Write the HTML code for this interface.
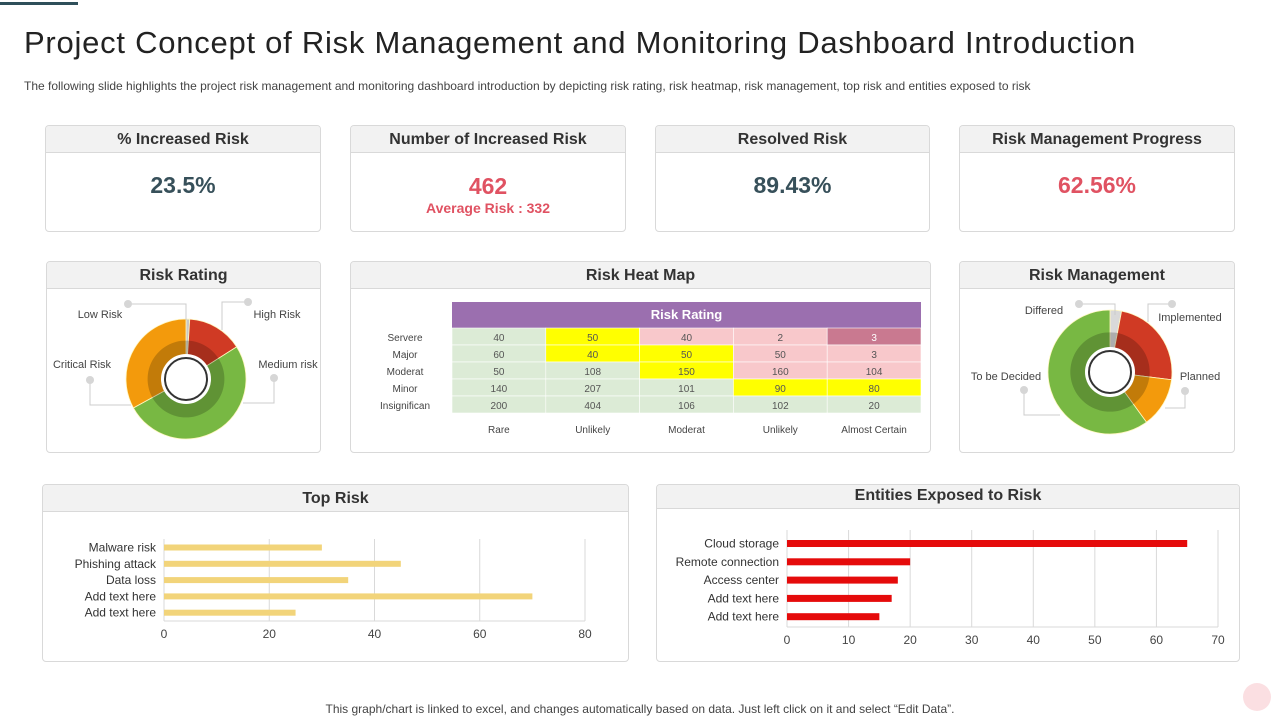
<!DOCTYPE html>
<html><head><meta charset="utf-8">
<style>
*{margin:0;padding:0;box-sizing:border-box}
body{width:1280px;height:720px;background:#fff;position:relative;overflow:hidden;font-family:"Liberation Sans",Arial,sans-serif;color:#333}
.card{position:absolute;border:1px solid #d9d9d9;border-radius:4px;background:#fff;overflow:hidden}
.card .hd{height:27px;background:#f2f2f2;border-bottom:1px solid #d9d9d9;text-align:center;font-weight:bold;font-size:16px;line-height:27px;color:#333}
.big{position:absolute;width:100%;text-align:center;font-weight:bold;font-size:23px}
#title{position:absolute;left:24px;top:25px;font-size:31px;font-weight:300;color:#222;letter-spacing:0.75px;white-space:nowrap}
#sub{position:absolute;left:24px;top:79px;font-size:12px;color:#444;white-space:nowrap}
#foot{position:absolute;left:0;width:1280px;top:702px;text-align:center;font-size:12px;color:#444}
svg#ch{position:absolute;left:0;top:0}
</style></head><body>
<div style="position:absolute;left:0;top:2px;width:78px;height:3px;background:#2f4f5a"></div>
<div id="title">Project Concept of Risk Management and Monitoring Dashboard Introduction</div>
<div id="sub">The following slide highlights the project risk management and monitoring dashboard introduction by depicting risk rating, risk heatmap, risk management, top risk and entities exposed to risk</div>

<div class="card" style="left:45px;top:125px;width:276px;height:107px"><div class="hd">% Increased Risk</div><div class="big" style="top:46px;color:#37505a">23.5%</div></div>
<div class="card" style="left:350px;top:125px;width:276px;height:107px"><div class="hd">Number of Increased Risk</div><div class="big" style="top:47px;color:#e05262">462</div><div class="big" style="top:74px;font-size:14px;color:#e05262">Average Risk : 332</div></div>
<div class="card" style="left:655px;top:125px;width:275px;height:107px"><div class="hd">Resolved Risk</div><div class="big" style="top:46px;color:#37505a">89.43%</div></div>
<div class="card" style="left:959px;top:125px;width:276px;height:107px"><div class="hd">Risk Management Progress</div><div class="big" style="top:46px;color:#e05262">62.56%</div></div>

<div class="card" style="left:46px;top:261px;width:275px;height:192px"><div class="hd">Risk Rating</div></div>
<div class="card" style="left:350px;top:261px;width:581px;height:192px"><div class="hd">Risk Heat Map</div></div>
<div class="card" style="left:959px;top:261px;width:276px;height:192px"><div class="hd">Risk Management</div></div>
<div class="card" style="left:42px;top:484px;width:587px;height:178px"><div class="hd">Top Risk</div></div>
<div class="card" style="left:656px;top:484px;width:584px;height:178px"><div class="hd" style="height:24px;line-height:22px">Entities Exposed to Risk</div></div>

<svg id="ch" width="1280" height="720"></svg>
<div id="foot">This graph/chart is linked to excel,  and changes automatically based on data. Just left click on it and select “Edit Data”.</div>
<div style="position:absolute;left:1243px;top:683px;width:28px;height:28px;border-radius:50%;background:#fbdfe2"></div>

<script>
// ---- data ----
const ratingLabels = ["Low Risk","High Risk","Medium risk","Critical Risk"];
const ratingValues = [1, 15, 51, 33];
const mgmtLabels = ["Differed","Implemented","Planned","To be Decided"];
const mgmtValues = [3, 24, 13, 60];
const heatRows = ["Servere","Major","Moderat","Minor","Insignifican"];
const heatCols = ["Rare","Unlikely","Moderat","Unlikely","Almost Certain"];
const heatValues = [[40,50,40,2,3],[60,40,50,50,3],[50,108,150,160,104],[140,207,101,90,80],[200,404,106,102,20]];
const heatLevels = [["g","y","p","p","d"],["g","y","y","p","p"],["g","g","y","p","p"],["g","g","g","y","y"],["g","g","g","g","g"]];
const topRiskCats = ["Malware risk","Phishing attack","Data loss","Add text here","Add text here"];
const topRiskValues = [30, 45, 35, 70, 25];
const topRiskTicks = [0,20,40,60,80];
const entityCats = ["Cloud storage","Remote connection","Access center","Add text here","Add text here"];
const entityValues = [65, 20, 18, 17, 15];
const entityTicks = [0,10,20,30,40,50,60,70];

const NS="http://www.w3.org/2000/svg";
const svg=document.getElementById('ch');
function mk(tag,attrs,parent){const e=document.createElementNS(NS,tag);for(const k in attrs)e.setAttribute(k,attrs[k]);(parent||svg).appendChild(e);return e;}
function txt(x,y,s,attrs){const t=mk('text',Object.assign({x:x,y:y,'font-family':'Liberation Sans, Arial, sans-serif'},attrs));t.textContent=s;return t;}
function arc(cx,cy,r0,r1,a0,a1){
  const p=(r,a)=>[cx+r*Math.sin(a),cy-r*Math.cos(a)];
  const lg=(a1-a0)>Math.PI?1:0;
  const [x1,y1]=p(r1,a0),[x2,y2]=p(r1,a1),[x3,y3]=p(r0,a1),[x4,y4]=p(r0,a0);
  return `M${x1} ${y1}A${r1} ${r1} 0 ${lg} 1 ${x2} ${y2}L${x3} ${y3}A${r0} ${r0} 0 ${lg} 0 ${x4} ${y4}Z`;
}
function donut(cx,cy,R,values,colors,name){
  const g=mk('g',{});
  
  
  const tot=values.reduce((a,b)=>a+b,0);let a=0;
  values.forEach((v,i)=>{const a1=a+v/tot*2*Math.PI;
    const s=mk('path',{d:arc(cx,cy,22,R,a,a1),fill:colors[i],stroke:'#fff7c0','stroke-width':0.8},g);
    
    
    a=a1;});
  mk('path',{d:arc(cx,cy,22,R*0.64,0,Math.PI*2-0.0001),fill:'#000','fill-opacity':0.2},g);
  mk('circle',{cx:cx,cy:cy,r:25,fill:'#fff'},g);
  mk('circle',{cx:cx,cy:cy,r:21,fill:'#fff',stroke:'#333','stroke-width':2},g);
}
function leader(pts,dot,name){
  const l=mk('polyline',{points:pts.map(p=>p.join(',')).join(' '),fill:'none',stroke:'#ccc','stroke-width':1});
  
  
  mk('circle',{cx:dot[0],cy:dot[1],r:4,fill:'#d6d6d6'});
}
// Risk rating donut
donut(186,379,60,ratingValues,['#c8c8c8','#d03a24','#78b843','#f39a0c'],'risk-rating-donut');
leader([[128,304],[186,304],[186,320]],[128,304],'low-risk-leader');
leader([[248,302],[222,302],[222,330]],[248,302],'high-risk-leader');
leader([[90,380],[90,405],[131,405]],[90,380],'critical-risk-leader');
leader([[274,378],[274,403],[243,403]],[274,378],'medium-risk-leader');
[[100,318,'middle'],[277,318,'middle'],[288,368,'middle'],[82,368,'middle']].forEach((p,i)=>{
  const t=txt(p[0],p[1],ratingLabels[i],{'font-size':11,fill:'#444','text-anchor':p[2]});
  
  
});
// Risk management donut
donut(1110,372,62,mgmtValues,['#d9d9d9','#d03a24','#f39a0c','#78b843'],'risk-management-donut');
leader([[1079,304],[1115,304],[1115,315]],[1079,304],'differed-leader');
leader([[1172,304],[1148,304],[1148,322]],[1172,304],'implemented-leader');
leader([[1024,390],[1024,415],[1060,415]],[1024,390],'to-be-decided-leader');
leader([[1185,391],[1185,408],[1165,408]],[1185,391],'planned-leader');
[[1044,314],[1190,321],[1200,380],[1006,380]].forEach((p,i)=>{
  const t=txt(p[0],p[1],mgmtLabels[i],{'font-size':11,fill:'#444','text-anchor':'middle'});
  
  
});
// Heat map
const hmX=452,hmW=469,hmTop=328,rowH=17,colW=hmW/5;
const hcol={g:'#dcebd6',y:'#ffff00',p:'#f8c8cb',d:'#c97990'};
const hh=mk('rect',{x:hmX,y:302,width:hmW,height:26,fill:'#9b6faf'});


const ht=txt(hmX+hmW/2,319,'Risk Rating',{'font-size':13,'font-weight':'bold',fill:'#fff','text-anchor':'middle'});


heatRows.forEach((r,ri)=>{
  const rl=txt(405,hmTop+ri*rowH+13,r,{'font-size':10,fill:'#444','text-anchor':'middle'});
  
  
  heatCols.forEach((c,ci)=>{
    const cell=mk('rect',{x:hmX+ci*colW,y:hmTop+ri*rowH,width:colW,height:rowH,fill:hcol[heatLevels[ri][ci]],stroke:'#fff','stroke-width':0.6});
    
    
    const v=txt(hmX+ci*colW+colW/2,hmTop+ri*rowH+13,String(heatValues[ri][ci]),{'font-size':10,fill:heatLevels[ri][ci]=='d'?'#fff':'#555','text-anchor':'middle'});
    
    
  });
});
heatCols.forEach((c,ci)=>{
  const t=txt(hmX+ci*colW+colW/2,433,c,{'font-size':10,fill:'#444','text-anchor':'middle'});
  
  
});
// Bar charts
function barChart(o){
  const sx=v=>o.x0+(v-o.ticks[0])/(o.ticks[o.ticks.length-1]-o.ticks[0])*(o.x1-o.x0);
  o.ticks.forEach(t=>{
    const gl=mk('line',{x1:sx(t),x2:sx(t),y1:o.gTop,y2:o.base,stroke:'#d9d9d9','stroke-width':1});
    
    
    const tl=txt(sx(t),o.base+17,String(t),{'font-size':12,fill:'#444','text-anchor':'middle'});
    
    
  });
  const ax=mk('line',{x1:o.x0,x2:o.x1,y1:o.base,y2:o.base,stroke:'#d9d9d9'});
  
  
  o.cats.forEach((c,i)=>{
    const cy=o.y0+i*o.step;
    const b=mk('rect',{x:o.x0,y:cy-o.bh/2,width:sx(o.vals[i])-o.x0,height:o.bh,fill:o.color});
    
    
    const l=txt(o.x0-8,cy+4,c,{'font-size':12,fill:'#333','text-anchor':'end'});
    
    
  });
}
barChart({name:'top-risk',cats:topRiskCats,vals:topRiskValues,ticks:topRiskTicks,x0:164,x1:585,y0:547.5,step:16.3,bh:6,gTop:539,base:621,color:'#f2d47a'});
barChart({name:'entities',cats:entityCats,vals:entityValues,ticks:entityTicks,x0:787,x1:1218,y0:543.5,step:18.3,bh:7,gTop:530,base:627,color:'#e50b0b'});
</script>
</body></html>
